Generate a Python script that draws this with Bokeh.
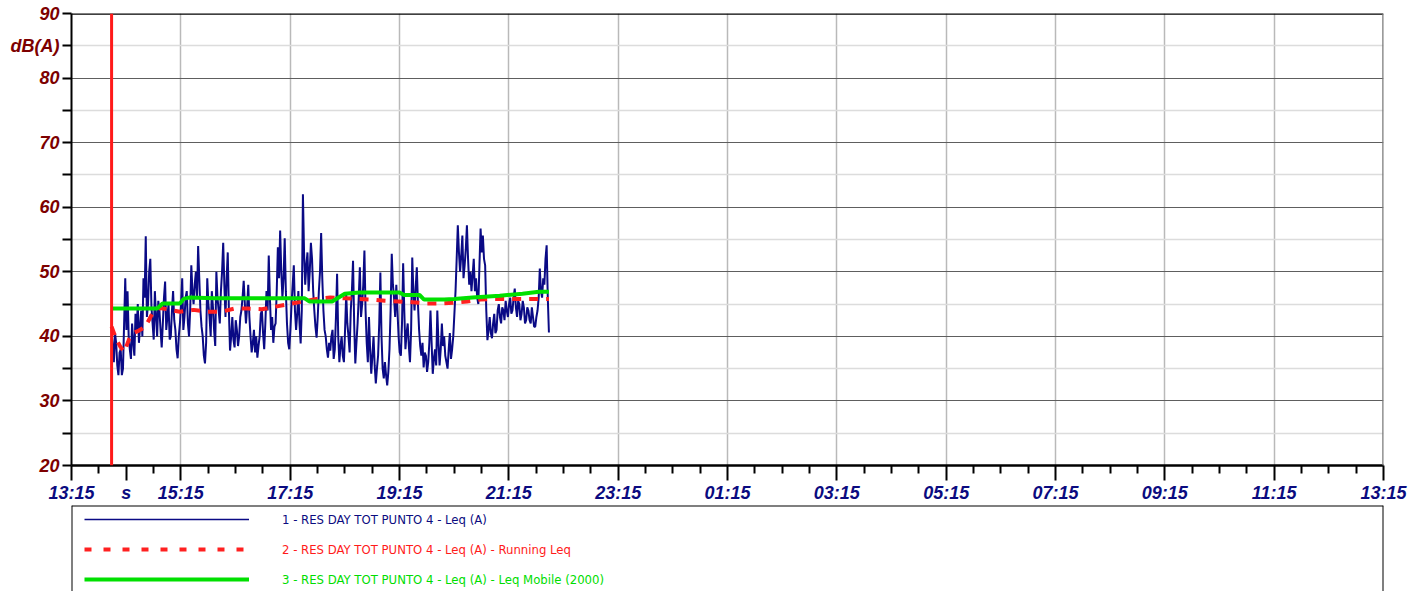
import numpy as np
from bokeh.plotting import figure
from bokeh.models import FixedTicker, Range1d, Span, Grid, Legend, LegendItem
from bokeh.layouts import column
from bokeh.embed import file_html
from bokeh.resources import INLINE

# ---------------- data ----------------
leq_start = "13:59"          # first sample of the Leq(A) series
leq_step_min = 1.25          # sampling step (minutes)
leq_values = [
    41, 38.5, 36, 40.5, 39, 35.5, 34, 37.5, 38, 34, 35, 42, 49, 41, 47, 40, 38, 36.5, 42, 39, 37, 43.5, 41, 45,
    39, 41.5, 44, 40, 49, 46, 55.5, 43, 45, 50, 52, 44.5, 42, 39.5, 47, 43, 40, 45.5, 44, 41, 38.3, 42, 46, 48.5,
    41, 43, 45, 39.5, 40, 44, 47, 42.5, 41, 38, 36.6, 40, 42, 45, 49, 41, 43, 46, 47, 42, 40, 44, 51, 47,
    45, 48, 50, 46, 54, 49, 44, 41.5, 40, 37, 35.8, 39, 49, 45, 43, 40, 47, 44.5, 41, 38.5, 50, 46, 44, 42,
    47, 50, 54.5, 48, 43, 49, 53, 44, 37.8, 40, 43, 39.5, 38.3, 42.5, 41, 38.5, 40, 43, 44, 46, 48.6, 45, 42, 44.5,
    48, 43, 40, 37.5, 39, 41, 37.5, 40, 36.7, 38.5, 40, 43.5, 44, 40.5, 38, 42, 47, 44, 52.5, 46, 41, 43, 39, 41.5,
    42, 47, 53.8, 49, 56.4, 50, 46, 49, 55.2, 47, 42, 39, 38, 41, 45, 48, 51, 44, 41, 43.5, 47, 42, 38.9, 44,
    62, 53, 48, 51, 53, 47, 50, 54.5, 52, 47, 44, 41.5, 39.8, 43, 47, 50, 56, 49, 44, 41, 40, 38, 36.7, 39,
    37.8, 40, 41, 36.5, 38, 43, 49.7, 40, 36, 38.5, 40, 37, 36, 41, 46.6, 42, 40, 37.5, 44, 47, 51.7, 42, 35.8, 39,
    42, 46, 50.7, 43, 45, 48, 53.3, 44, 39, 36, 43, 38, 34.2, 37, 40, 35.5, 32.7, 35, 37, 42, 49.9, 40, 35, 33.5,
    36, 34, 32.4, 34.5, 38, 44, 52.8, 48, 46, 43, 48, 44, 40, 37.5, 37, 42, 51.3, 44, 38, 40.5, 42, 38.5, 36, 41,
    52.2, 47, 44, 47.5, 50.7, 45, 41, 38.5, 37, 39, 35.2, 37.5, 37, 34.5, 36, 39, 44, 39, 34.2, 36.5, 38, 35.5, 44, 39,
    35.5, 38, 42, 38.5, 40, 37, 36, 35, 38, 40.5, 36.5, 38, 40, 43.5, 47, 52, 57.2, 53, 50, 52.5, 55.6, 49, 51, 53.5,
    57.2, 52, 48, 50, 47, 49.5, 52, 47, 49, 46, 45, 51, 56.7, 53, 55.6, 52, 51, 44, 39.4, 41, 43, 40.5, 39.7, 42,
    43.5, 40.5, 41, 44, 45, 43, 42, 44.5, 44, 42.5, 45.5, 44, 43, 45, 46, 43.5, 44, 46, 47.4, 44.5, 43, 45.5, 45, 42.5,
    43.5, 45.5, 44.5, 42, 42.5, 44.5, 44, 42.5, 42, 44.5, 43, 41.5, 41.5, 43, 44, 46, 50.5, 47, 46, 49, 48, 52, 54.1, 46,
    40.6,
]

running_times = ["13:59", "14:04", "14:09", "14:13", "14:18", "14:24", "14:29", "14:36",
                 "14:44", "14:52", "15:00", "15:14", "15:29", "15:44", "15:59", "16:14",
                 "16:29", "16:44", "16:59", "17:14", "17:29", "17:44", "17:59", "18:14",
                 "18:29", "18:44", "18:59", "19:14", "19:29", "19:44", "19:59", "20:14",
                 "20:29", "20:44", "20:59", "21:14", "21:29", "21:44", "21:59"]
running_values = [41.5, 39.6, 38.3, 37.6, 39.5, 40.6, 40.9, 41.5,
                  43.6, 44.4, 44.2, 43.8, 44.1, 43.8, 43.8, 44.3,
                  44.3, 44.2, 44.6, 45.0, 45.4, 45.8, 46.0, 45.9,
                  45.8, 45.7, 45.5, 45.4, 45.3, 45.1, 45.1, 45.2,
                  45.4, 45.7, 45.8, 45.8, 45.8, 45.8, 45.8]

mobile_times = ["13:59", "14:49", "14:55", "15:14", "15:18", "15:24", "15:52", "17:31",
                "17:36", "18:01", "18:15", "18:31", "19:15", "19:20", "19:37", "19:42",
                "20:04", "20:15", "20:35", "21:05", "21:30", "21:48", "21:59"]
mobile_values = [44.3, 44.3, 45.1, 45.1, 45.8, 46.0, 45.9, 45.9,
                 45.4, 45.4, 46.6, 46.8, 46.8, 46.4, 46.4, 45.7,
                 45.7, 45.8, 46.0, 46.3, 46.6, 46.9, 46.9]

x_tick_labels = ["13:15", "15:15", "17:15", "19:15", "21:15", "23:15", "01:15",
                 "03:15", "05:15", "07:15", "09:15", "11:15", "13:15"]
extra_x_label = "s"          # label shown at 14:15
y_tick_values = [20, 30, 40, 50, 60, 70, 80, 90]
unit_label = "dB(A)"
series_names = ["1 - RES DAY TOT PUNTO 4 - Leq (A)",
                "2 - RES DAY TOT PUNTO 4 - Leq (A) - Running Leq",
                "3 - RES DAY TOT PUNTO 4 - Leq (A) - Leq Mobile (2000)"]

# ---------------- helpers ----------------
def hm(s):
    h, m = s.split(":")
    return int(h) + int(m) / 60.0

X0, X1 = 13.25, 37.25
leq_times = hm(leq_start) + np.arange(len(leq_values)) * leq_step_min / 60.0
run_x = [hm(t) for t in running_times]
mob_x = [hm(t) for t in mobile_times]

x_major = [X0 + 2 * k for k in range(len(x_tick_labels))]
S_POS = 14.25
x_minor = [float(v) for v in np.arange(X0, X1 + 0.01, 0.5)
           if all(abs(v - m) > 1e-6 for m in x_major + [S_POS])]
overrides = {t: lab for t, lab in zip(x_major, x_tick_labels)}
overrides[S_POS] = extra_x_label

NAVY = "#0b0b80"
DARKRED = "#7d0000"
BLUE = "#0a0a85"
RED = "#ff2020"
GREEN = "#00e000"
FONT = "Liberation Sans"

# ---------------- main chart ----------------
p = figure(frame_width=1312, frame_height=452,
           x_range=Range1d(X0, X1), y_range=Range1d(20, 90),
           output_backend="svg", toolbar_location=None,
           min_border_left=71, min_border_right=31, min_border_top=13, min_border_bottom=38)
p.outline_line_color = None
p.background_fill_color = "white"
p.border_fill_color = "white"

xa = p.xaxis[0]
xa.ticker = FixedTicker(ticks=x_major + [S_POS], minor_ticks=x_minor)
xa.major_label_overrides = overrides
xa.axis_line_color = "black"
xa.axis_line_width = 2.5
xa.major_tick_line_width = 2
xa.minor_tick_line_width = 2
xa.major_tick_line_color = "black"
xa.minor_tick_line_color = "black"
xa.major_tick_out = 15
xa.major_tick_in = 0
xa.minor_tick_out = 8
xa.minor_tick_in = 0
xa.major_label_standoff = 2
xa.major_label_text_font = FONT
xa.major_label_text_font_size = "18px"
xa.major_label_text_font_style = "bold italic"
xa.major_label_text_color = NAVY

ya = p.yaxis[0]
ya.ticker = FixedTicker(ticks=y_tick_values + [85], minor_ticks=[25, 35, 45, 55, 65, 75])
ya.major_label_overrides = {85: unit_label}
ya.axis_line_color = "black"
ya.axis_line_width = 2
ya.major_tick_line_width = 2
ya.minor_tick_line_width = 2
ya.major_tick_out = 9
ya.major_tick_in = 0
ya.minor_tick_out = 9
ya.minor_tick_in = 0
ya.major_label_standoff = 3
ya.major_label_text_font = FONT
ya.major_label_text_font_size = "18px"
ya.major_label_text_font_style = "bold italic"
ya.major_label_text_color = DARKRED

p.xgrid.ticker = FixedTicker(ticks=x_major)
p.xgrid.grid_line_color = "#b9b9b9"
p.xgrid.grid_line_width = 1.5
p.ygrid.ticker = FixedTicker(ticks=y_tick_values)
p.ygrid.grid_line_color = "#5e5e5e"
p.ygrid.grid_line_width = 1.2
p.add_layout(Grid(dimension=1, ticker=FixedTicker(ticks=[25, 35, 45, 55, 65, 75, 85]),
                  grid_line_color="#dcdcdc", grid_line_width=1.5))

p.add_layout(Span(location=90, dimension="width", line_color="black", line_width=2.5))
p.add_layout(Span(location=X1, dimension="height", line_color="#7a7a7a", line_width=2.5))
p.add_layout(Span(location=hm(leq_start), dimension="height", line_color="#ff1a1a", line_width=3))

p.line(leq_times, leq_values, line_color=BLUE, line_width=2)
p.line(run_x, running_values, line_color=RED, line_width=4, line_dash="9 8")
p.line(mob_x, mobile_values, line_color=GREEN, line_width=4)

# ---------------- legend box ----------------
p2 = figure(frame_width=1312, frame_height=88, x_range=Range1d(0, 1), y_range=Range1d(0, 1),
            output_backend="svg", toolbar_location=None, x_axis_type=None, y_axis_type=None,
            min_border_left=71, min_border_right=31, min_border_top=0, min_border_bottom=0)
p2.outline_line_color = None
p2.xgrid.visible = False
p2.ygrid.visible = False
p2.add_layout(Span(location=0, dimension="height", line_color="black", line_width=2))
p2.add_layout(Span(location=1, dimension="height", line_color="black", line_width=2))
p2.add_layout(Span(location=1, dimension="width", line_color="black", line_width=2))

styles = [dict(line_color=BLUE, line_width=1.5),
          dict(line_color=RED, line_width=4, line_dash="7 12"),
          dict(line_color=GREEN, line_width=4)]
colors = [NAVY, "#ff1a1a", "#00dd00"]
nan = float("nan")
for k, (name, st, col) in enumerate(zip(series_names, styles, colors)):
    r = p2.line(x=[nan], y=[nan], **st)
    leg = Legend(items=[LegendItem(label=name, renderers=[r])],
                 location=(13, 64 - 30 * k), orientation="vertical",
                 glyph_width=165, glyph_height=20, label_height=20, label_standoff=33,
                 padding=5, margin=0, spacing=0, border_line_color=None,
                 background_fill_alpha=0,
                 label_text_font="DejaVu Sans Condensed, Liberation Sans",
                 label_text_font_size="13px",
                 label_text_color=col)
    p2.add_layout(leg, "center")

layout = column(p, p2, spacing=0)
open("out.html", "w").write(file_html(layout, INLINE))
